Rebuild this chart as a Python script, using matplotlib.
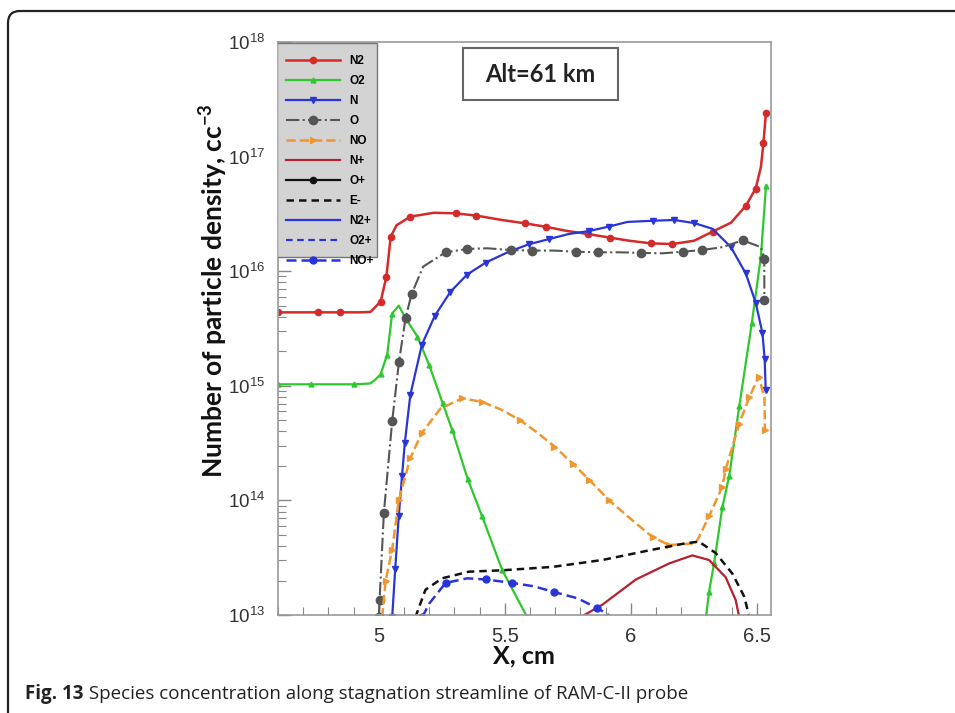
import numpy as np
import matplotlib
matplotlib.use("Agg")
import matplotlib.pyplot as plt
from matplotlib.patches import FancyBboxPatch, Rectangle
from matplotlib.transforms import IdentityTransform
from matplotlib.ticker import FixedLocator, MultipleLocator, LogLocator, NullFormatter

# ---------------- data (x in cm, log10 of density in cc^-3) ----------------
n2_x = [4.60, 4.667, 4.758, 4.845, 4.927, 4.967, 5.007, 5.03, 5.047, 5.07, 5.125, 5.218, 5.305,
        5.387, 5.488, 5.579, 5.662, 5.742, 5.828, 5.917, 5.993, 6.079, 6.165, 6.251, 6.324,
        6.397, 6.456, 6.495, 6.516, 6.526, 6.536]
n2_log = [15.641, 15.641, 15.641, 15.641, 15.641, 15.645, 15.734, 15.95, 16.30, 16.40, 16.476,
          16.51, 16.505, 16.485, 16.447, 16.418, 16.388, 16.353, 16.325, 16.293, 16.266, 16.243,
          16.237, 16.266, 16.345, 16.423, 16.57, 16.72, 16.91, 17.12, 17.38]

o2_x = [4.60, 4.634, 4.729, 4.817, 4.901, 4.965, 4.984, 5.007, 5.033, 5.053, 5.079, 5.106,
        5.153, 5.20, 5.253, 5.292, 5.352, 5.41, 5.49, 5.589,
        np.nan,
        6.298, 6.31, 6.33, 6.363, 6.39, 6.43, 6.48, 6.516, 6.536]
o2_log = [15.013, 15.013, 15.013, 15.013, 15.013, 15.02, 15.05, 15.10, 15.27, 15.63, 15.70, 15.59,
          15.43, 15.18, 14.85, 14.61, 14.19, 13.86, 13.39, 12.98,
          np.nan,
          12.98, 13.2, 13.45, 13.94, 14.21, 14.82, 15.55, 16.13, 16.74]

n_x = [5.053, 5.065, 5.079, 5.092, 5.103, 5.125, 5.171, 5.222, 5.284, 5.35, 5.424, 5.516, 5.595,
       5.675, 5.754, 5.833, 5.914, 5.987, 6.086, 6.172, 6.251, 6.324, 6.397, 6.456, 6.496,
       6.522, 6.531, 6.535]
n_log = [12.98, 13.4, 13.86, 14.21, 14.50, 14.92, 15.36, 15.61, 15.82, 15.97, 16.075, 16.17,
         16.235, 16.28, 16.325, 16.35, 16.39, 16.43, 16.44, 16.447, 16.42, 16.37, 16.21, 15.98,
         15.72, 15.46, 15.23, 14.96]

o_x = [5.0, 5.003, 5.02, 5.053, 5.08, 5.106, 5.13, 5.176, 5.265, 5.351, 5.43, 5.523, 5.609,
       5.696, 5.782, 5.868, 5.954, 6.04, 6.125, 6.205, 6.283, 6.364, 6.443, 6.516, 6.529, 6.53]
o_log = [12.98, 13.13, 13.89, 14.69, 15.21, 15.59, 15.80, 16.04, 16.165, 16.194, 16.2, 16.185,
         16.18, 16.18, 16.17, 16.165, 16.165, 16.16, 16.156, 16.17, 16.185, 16.21, 16.27, 16.21,
         16.11, 15.75]

no_x = [5.013, 5.027, 5.053, 5.079, 5.125, 5.171, 5.244, 5.33, 5.41, 5.488, 5.56, 5.63, 5.697,
        5.77, 5.835, 5.914, 6.02, 6.086, 6.152, 6.258, 6.31, 6.363, 6.376, 6.43, 6.47, 6.507,
        6.53, 6.532]
no_log = [12.98, 13.3, 13.57, 14.0, 14.37, 14.59, 14.80, 14.89, 14.86, 14.79, 14.70, 14.59,
          14.47, 14.32, 14.18, 14.0, 13.80, 13.68, 13.61, 13.626, 13.86, 14.12, 14.27, 14.67,
          14.90, 15.08, 14.90, 14.61]

nplus_x = [5.8, 5.887, 6.02, 6.152, 6.244, 6.31, 6.376, 6.416, 6.43]
nplus_log = [12.98, 13.09, 13.31, 13.45, 13.52, 13.48, 13.33, 13.13, 12.98]

e_x = [5.145, 5.185, 5.251, 5.357, 5.49, 5.69, 5.887, 6.086, 6.218, 6.27, 6.337, 6.403, 6.45, 6.47]
e_log = [12.98, 13.22, 13.32, 13.378, 13.39, 13.42, 13.48, 13.57, 13.626, 13.64, 13.54, 13.36,
         13.16, 12.98]

noplus_x = [5.172, 5.2, 5.265, 5.351, 5.424, 5.53, 5.616, 5.696, 5.788, 5.867, 5.927]
noplus_log = [12.98, 13.10, 13.28, 13.32, 13.31, 13.28, 13.25, 13.20, 13.146, 13.06, 12.98]

# species below the plotted range (legend only)
oplus_x, oplus_log = [], []
n2plus_x, n2plus_log = [], []
o2plus_x, o2plus_log = [], []

x_ticks = [5, 5.5, 6, 6.5]
x_ticklabels = ["5", "5.5", "6", "6.5"]

# ---------------- style ----------------
plt.rcParams['font.family'] = ['Liberation Sans', 'DejaVu Sans']
plt.rcParams['mathtext.fontset'] = 'custom'
plt.rcParams['mathtext.rm'] = 'Liberation Sans'
plt.rcParams['mathtext.bf'] = 'Lato:bold'

W, H = 955, 713
fig = plt.figure(figsize=(W / 100, H / 100), dpi=100)
AX_L, AX_T, AX_W, AX_H = 278, 42, 493, 573
ax = fig.add_axes([AX_L / W, (H - AX_T - AX_H) / H, AX_W / W, AX_H / H])
ax.set_yscale('log')


def pw(v):
    return [10 ** t for t in v]


def axfrac(px, py):
    return ((px - AX_L) / AX_W, (AX_T + AX_H - py) / AX_H)


series = [
    ("N2", n2_x, n2_log, dict(color='#d42a2a', lw=1.8, ls='-', marker='o', ms=4.5, markevery=0.045)),
    ("O2", o2_x, o2_log, dict(color='#2ec82e', lw=1.6, ls='-', marker='^', ms=3.5, markevery=0.045)),
    ("N", n_x, n_log, dict(color='#2a35d8', lw=1.6, ls='-', marker='v', ms=3.8, markevery=0.04)),
    ("O", o_x, o_log, dict(color='#555555', lw=1.5, ls='-.', marker='o', ms=6, markevery=0.045)),
    ("NO", no_x, no_log, dict(color='#f0962e', lw=1.8, ls='--', marker='>', ms=5, markevery=0.045)),
    ("N+", nplus_x, nplus_log, dict(color='#b3202e', lw=1.6, ls='-')),
    ("O+", oplus_x, oplus_log, dict(color='#111111', lw=1.6, ls='-', marker='o', ms=4.5)),
    ("E-", e_x, e_log, dict(color='#111111', lw=1.8, ls=(0, (3, 2)))),
    ("N2+", n2plus_x, n2plus_log, dict(color='#2a35d8', lw=1.6, ls='-')),
    ("O2+", o2plus_x, o2plus_log, dict(color='#2a35d8', lw=1.6, ls=(0, (3, 2)))),
    ("NO+", noplus_x, noplus_log, dict(color='#2a35d8', lw=1.8, ls=(0, (4, 2)), marker='o', ms=5, markevery=0.05)),
]

handles = []
for name, xs, ls_, st in series:
    ln, = ax.plot(xs, pw(ls_), label=name, **st)
    handles.append(ln)

ax.set_xlim(4.6, 6.556)
ax.set_ylim(1e13, 1e18)

ax.xaxis.set_major_locator(FixedLocator(x_ticks))
ax.set_xticklabels(x_ticklabels)
ax.xaxis.set_minor_locator(MultipleLocator(0.1))
ax.yaxis.set_major_locator(LogLocator(base=10, numticks=10))
ax.yaxis.set_minor_locator(LogLocator(base=10, subs=np.arange(2, 10), numticks=20))
ax.yaxis.set_minor_formatter(NullFormatter())

ax.tick_params(which='both', direction='in', top=False, right=False, color='#888888')
ax.tick_params(which='major', length=9, width=1.0, labelcolor='#333333')
ax.tick_params(axis='x', which='major', labelsize=14.5, pad=9)
ax.tick_params(axis='y', which='major', labelsize=13.5, pad=9.5)
ax.tick_params(which='minor', length=6, width=0.8)
for s in ax.spines.values():
    s.set_color('#999999')
    s.set_linewidth(1.2)

# legend: gray box + frameless legend
lx0, ly0 = axfrac(277, 257)
lx1, ly1 = axfrac(377, 43)
ax.add_patch(Rectangle((lx0, ly0), lx1 - lx0, ly1 - ly0, transform=ax.transAxes,
                       facecolor='#d3d3d3', edgecolor='#777777', lw=1.0, zorder=4))
bx, by = axfrac(286, 55)
leg = ax.legend(handles=handles, loc='upper left', bbox_to_anchor=(bx, by), borderaxespad=0,
                borderpad=0, prop={'family': 'Liberation Sans', 'weight': 'bold', 'size': 8.5},
                handlelength=4.6, handletextpad=0.8, labelspacing=0.68, numpoints=1,
                frameon=False)
leg.set_zorder(5)

# Alt box
rx0, ry0 = axfrac(462.7, 100)
rx1, ry1 = axfrac(618, 48)
ax.add_patch(Rectangle((rx0, ry0), rx1 - rx0, ry1 - ry0, transform=ax.transAxes,
                       facecolor='white', edgecolor='#666666', lw=1.5, zorder=5))
tx, ty = axfrac(540, 74)
ax.text(tx, ty, "Alt=61 km", transform=ax.transAxes, ha='center', va='center', fontsize=17,
        fontweight='bold', family='Lato', color='#222222', zorder=6)

# axis labels
fig.text(213 / W, 1 - 291 / H, r"Number of particle density, cc$^{\mathbf{-3}}$", rotation=90,
         ha='center', va='center', fontsize=19, fontweight='bold', family='Lato', color='#111111')
fig.text(524 / W, 1 - 656 / H, "X, cm", ha='center', va='center', fontsize=18, fontweight='bold',
         family='Lato', color='#111111')

# frame of the figure card
fig.add_artist(FancyBboxPatch((8, -60), 1200, H - 11 + 60, boxstyle="round,pad=0,rounding_size=12",
                              transform=IdentityTransform(), facecolor='none', edgecolor='#222222',
                              lw=1.6))

# caption
t1 = fig.text(25 / W, 1 - 694 / H, "Fig. 13", ha='left', va='center', fontsize=13.5,
              fontweight='bold', family='Open Sans', color='#222222')
ax.annotate(" Species concentration along stagnation streamline of RAM-C-II probe", xy=(1, 0.5),
            xycoords=t1, ha='left', va='center', fontsize=13.5, family='Open Sans', color='#222222',
            annotation_clip=False)

fig.savefig("out.png", dpi=100)
